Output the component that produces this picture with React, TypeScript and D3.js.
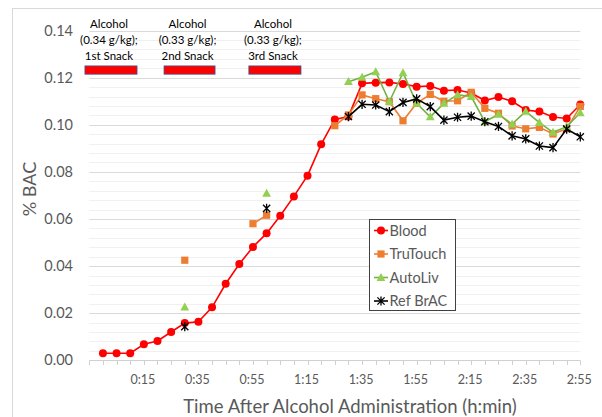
import React, { useRef, useEffect } from 'react';
import * as d3 from 'd3';

// time after administration, minutes (one sample every 5 min)
const MINUTES = [0, 5, 10, 15, 20, 25, 30, 35, 40, 45, 50, 55, 60, 65, 70, 75, 80, 85,
  90, 95, 100, 105, 110, 115, 120, 125, 130, 135, 140, 145, 150, 155, 160, 165, 170, 175];

const TICK_MINUTES = [15, 35, 55, 75, 95, 115, 135, 155, 175];
const TICK_LABELS = ['0:15', '0:35', '0:55', '1:15', '1:35', '1:55', '2:15', '2:35', '2:55'];

const BLOOD = [0.003, 0.003, 0.003, 0.0068, 0.0082, 0.012, 0.0158, 0.0164, 0.0225, 0.0325,
  0.0409, 0.0481, 0.0539, 0.0614, 0.0696, 0.0784, 0.0917, 0.1023, 0.1035, 0.1176,
  0.1179, 0.118, 0.1173, 0.1162, 0.1165, 0.1145, 0.1148, 0.1135, 0.1103, 0.1118,
  0.11, 0.1063, 0.1056, 0.1033, 0.1027, 0.1086];

const TRUTOUCH = [null, null, null, null, null, null, 0.0425, null, null, null,
  null, 0.058, 0.0616, null, null, null, null, 0.0996, 0.1042, 0.1127,
  0.1111, 0.1098, 0.1017, 0.1091, 0.1129, 0.11, 0.1102, 0.1138, 0.107, 0.1049,
  0.0995, 0.0983, 0.0989, 0.0961, 0.0983, 0.1078];

const AUTOLIV = [null, null, null, null, null, null, 0.0226, null, null, null,
  null, null, 0.0709, null, null, null, null, null, 0.1183, 0.1202,
  0.1225, 0.1098, 0.1221, 0.1091, 0.1034, 0.1091, 0.1127, 0.112, 0.1013, 0.1044,
  0.1003, 0.1057, 0.1009, 0.0968, 0.0992, 0.1051];

const REF_BRAC = [null, null, null, null, null, null, 0.0143, null, null, null,
  null, null, 0.0645, null, null, null, null, null, 0.1035, 0.1087,
  0.1084, 0.1056, 0.1095, 0.111, 0.1077, 0.102, 0.1032, 0.1037, 0.1013, 0.0993,
  0.0953, 0.094, 0.091, 0.0903, 0.0982, 0.0949];

const SERIES = ['Blood', 'TruTouch', 'AutoLiv', 'Ref BrAC'];

// alcohol + snack periods (minutes)
const SNACK_START = [-6.6, 22.4, 53.5];
const SNACK_END = [12.5, 41.1, 72.6];
const SNACK_TEXT = [
  ['Alcohol', '(0.34 g/kg);', '1st Snack'],
  ['Alcohol', '(0.33 g/kg);', '2nd Snack'],
  ['Alcohol', '(0.33 g/kg);', '3rd Snack'],
];

const FONT = 'Lato, "Open Sans", sans-serif';
const GREY = '#595959';

const App = () => {
  const ref = useRef<SVGSVGElement | null>(null);

  useEffect(() => {
    const width = 602, height = 417;
    const svg = d3.select(ref.current);
    svg.selectAll('*').remove();
    svg.attr('width', width).attr('height', height);

    svg.append('rect').attr('width', width).attr('height', height).attr('fill', '#fff');
    // chart area border
    svg.append('rect')
      .attr('x', 12.5).attr('y', 8.5).attr('width', 640).attr('height', 440)
      .attr('fill', 'none').attr('stroke', '#d9d9d9');

    const x = d3.scaleLinear().domain([-5, 175]).range([89.3, 580.3]);
    const y = d3.scaleLinear().domain([0, 0.14]).range([360.3, 30.6]);

    // minor gridlines
    const minor = d3.range(1, 36).map(i => i * 0.004).filter((_, i) => (i + 1) % 5 !== 0);
    svg.append('g').selectAll('line').data(minor).join('line')
      .attr('x1', x(-5)).attr('x2', x(175))
      .attr('y1', d => Math.round(y(d)) + 0.5).attr('y2', d => Math.round(y(d)) + 0.5)
      .attr('stroke', '#f0f0f0');

    // major gridlines
    const major = y.ticks(7).filter(d => d > 0);
    svg.append('g').selectAll('line').data(major).join('line')
      .attr('x1', x(-5)).attr('x2', x(175))
      .attr('y1', d => Math.round(y(d)) + 0.5).attr('y2', d => Math.round(y(d)) + 0.5)
      .attr('stroke', '#d9d9d9');

    // y labels
    svg.append('g').selectAll('text').data(y.ticks(7)).join('text')
      .attr('x', 73).attr('y', d => y(d) + 5)
      .attr('text-anchor', 'end')
      .style('font-family', FONT).style('font-size', '14.5px').style('fill', GREY)
      .text(d => d3.format('.2f')(d));

    // x axis
    const ax = svg.append('g');
    ax.append('line')
      .attr('x1', x(-5)).attr('x2', x(175))
      .attr('y1', 360.5).attr('y2', 360.5)
      .attr('stroke', '#d0d0d0');
    ax.selectAll('line.tick').data([-5, ...MINUTES]).join('line')
      .attr('class', 'tick')
      .attr('x1', d => Math.round(x(d)) + 0.5).attr('x2', d => Math.round(x(d)) + 0.5)
      .attr('y1', 360.5).attr('y2', 365)
      .attr('stroke', '#d0d0d0');
    ax.selectAll('text').data(TICK_MINUTES).join('text')
      .attr('x', d => x(d) - 1).attr('y', 383.5)
      .attr('text-anchor', 'middle')
      .style('font-family', FONT).style('font-size', '12.5px').style('fill', GREY)
      .text((_, i) => TICK_LABELS[i]);

    svg.append('text')
      .attr('x', 350).attr('y', 413)
      .attr('text-anchor', 'middle')
      .style('font-family', FONT).style('font-size', '18.5px').style('fill', GREY)
      .text('Time After Alcohol Administration (h:min)');

    svg.append('text')
      .attr('transform', 'translate(36,189) rotate(-90)')
      .attr('text-anchor', 'middle')
      .style('font-family', FONT).style('font-size', '18px').style('fill', GREY)
      .text('% BAC');

    // snack annotations
    SNACK_START.forEach((s, i) => {
      const e = SNACK_END[i];
      const cx = (x(s) + x(e)) / 2 - 2;
      svg.append('rect')
        .attr('x', x(s)).attr('y', y(0.125))
        .attr('width', x(e) - x(s)).attr('height', y(0.1215) - y(0.125))
        .attr('fill', '#ff0000').attr('stroke', '#3a5a9a').attr('stroke-width', 0.8);
      svg.append('g').selectAll('text').data(SNACK_TEXT[i]).join('text')
        .attr('x', cx).attr('y', (_, j) => 28 + j * 16)
        .attr('text-anchor', 'middle')
        .style('font-family', FONT).style('font-size', '11.5px').style('fill', '#000')
        .text(d => d);
    });

    const circle = (g, c) => g.append('circle').attr('r', 4).attr('fill', c);
    const square = (g, c) => g.append('rect').attr('x', -3.6).attr('y', -3.6)
      .attr('width', 7.2).attr('height', 7.2).attr('fill', c);
    const triangle = (g, c) => g.append('path').attr('d', 'M0,-4.6L4.4,3.4L-4.4,3.4Z').attr('fill', c);
    const star = (g, c) => g.append('path')
      .attr('d', 'M-3.6,-3.6L3.6,3.6M-3.6,3.6L3.6,-3.6M0,-4.6L0,4.6')
      .attr('stroke', c).attr('stroke-width', 1.3).attr('fill', 'none');

    const series = [
      { values: BLOOD, line: '#ff0000', mark: '#ff0000', marker: circle },
      { values: TRUTOUCH, line: '#ed7d31', mark: '#ed7d31', marker: square },
      { values: AUTOLIV, line: '#72b244', mark: '#92d050', marker: triangle },
      { values: REF_BRAC, line: '#000000', mark: '#000000', marker: star },
    ];

    const line = d3.line<[number, number | null]>()
      .defined(d => d[1] != null)
      .x(d => x(d[0]))
      .y(d => y(d[1] as number));

    series.forEach(s => {
      const pts = MINUTES.map((m, i) => [m, s.values[i]] as [number, number | null]);
      svg.append('path')
        .attr('d', line(pts))
        .attr('fill', 'none')
        .attr('stroke', s.line)
        .attr('stroke-width', 1.6);
      pts.filter(p => p[1] != null).forEach(p => {
        const g = svg.append('g').attr('transform', `translate(${x(p[0])},${y(p[1] as number)})`);
        s.marker(g, s.mark);
      });
    });

    // legend
    const lg = svg.append('g');
    lg.append('rect')
      .attr('x', 369.5).attr('y', 219.5).attr('width', 86).attr('height', 91)
      .attr('fill', '#fff').attr('stroke', '#404040');
    SERIES.forEach((name, i) => {
      const cy = 230.5 + i * 23.5;
      lg.append('line')
        .attr('x1', 374).attr('x2', 388).attr('y1', cy).attr('y2', cy)
        .attr('stroke', series[i].line).attr('stroke-width', 1.6);
      const g = lg.append('g').attr('transform', `translate(381,${cy})`);
      series[i].marker(g, series[i].mark);
      lg.append('text')
        .attr('x', 389.5).attr('y', cy + 5)
        .style('font-family', FONT).style('font-size', '14.5px').style('fill', GREY)
        .text(name);
    });
  }, []);

  return <svg ref={ref} style={{ position: 'absolute', left: 0, top: 0 }} />;
};

export default App;
